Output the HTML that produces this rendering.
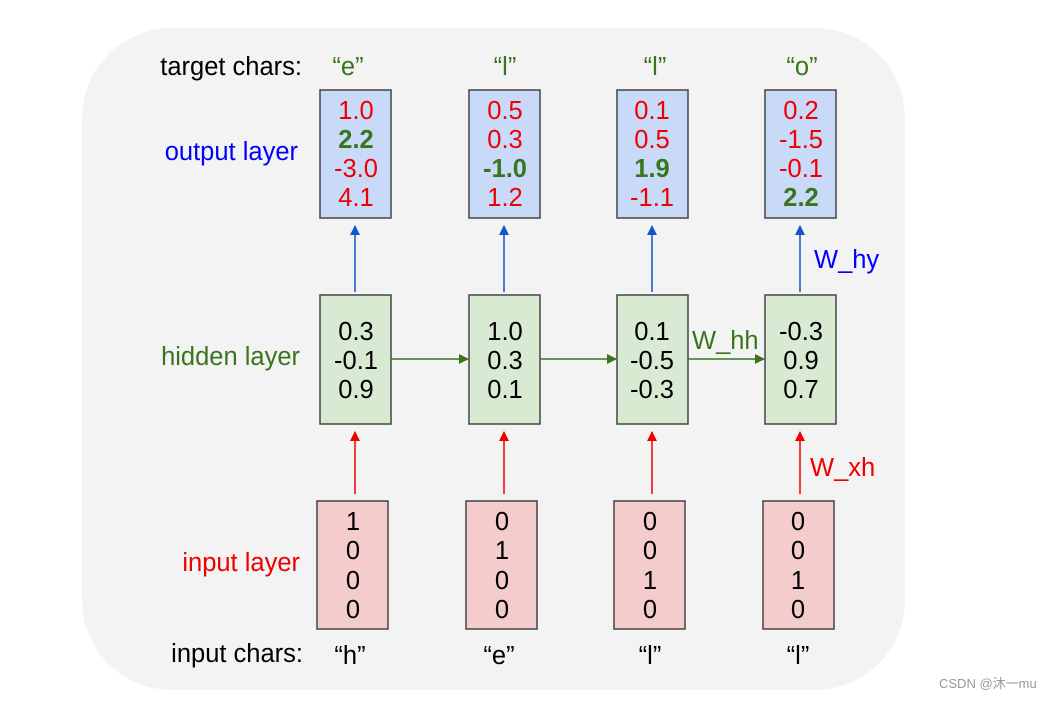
<!DOCTYPE html>
<html><head><meta charset="utf-8"><style>
body{margin:0;background:#fff;}
</style></head><body>
<svg width="1051" height="698" xmlns="http://www.w3.org/2000/svg" font-family="Liberation Sans, Arial, sans-serif" font-size="25.5">
<rect x="82" y="28" width="823" height="662" rx="90" ry="90" fill="#f3f3f3"/>
<defs>
<marker id="mb" markerWidth="10" markerHeight="10" refX="9" refY="5" orient="auto" markerUnits="userSpaceOnUse"><path d="M0,0 L10,5 L0,10 z" fill="#1155cc"/></marker>
<marker id="mr" markerWidth="10" markerHeight="10" refX="9" refY="5" orient="auto" markerUnits="userSpaceOnUse"><path d="M0,0 L10,5 L0,10 z" fill="#e00"/></marker>
<marker id="mg" markerWidth="10" markerHeight="10" refX="9" refY="5" orient="auto" markerUnits="userSpaceOnUse"><path d="M0,0 L10,5 L0,10 z" fill="#38761d"/></marker>
</defs>
<g text-anchor="end">
<text x="302" y="75" fill="#000">target chars:</text>
<text x="298" y="160" fill="#00f">output layer</text>
<text x="300" y="365" fill="#38761d">hidden layer</text>
<text x="300" y="571" fill="#e00">input layer</text>
<text x="303" y="662" fill="#000">input chars:</text>
</g>
<g stroke="#444" stroke-width="1.5">
<rect x="320" y="90" width="71" height="128" fill="#c9daf8"/>
<rect x="469" y="90" width="71" height="128" fill="#c9daf8"/>
<rect x="617" y="90" width="71" height="128" fill="#c9daf8"/>
<rect x="765" y="90" width="71" height="128" fill="#c9daf8"/>
<rect x="320" y="295" width="71" height="129" fill="#d9ead3"/>
<rect x="469" y="295" width="71" height="129" fill="#d9ead3"/>
<rect x="617" y="295" width="71" height="129" fill="#d9ead3"/>
<rect x="765" y="295" width="71" height="129" fill="#d9ead3"/>
<rect x="317" y="501" width="71" height="128" fill="#f4cccc"/>
<rect x="466" y="501" width="71" height="128" fill="#f4cccc"/>
<rect x="614" y="501" width="71" height="128" fill="#f4cccc"/>
<rect x="763" y="501" width="71" height="128" fill="#f4cccc"/>
</g>
<g stroke-width="1.5">
<line x1="355" y1="292" x2="355" y2="226" stroke="#1155cc" marker-end="url(#mb)"/>
<line x1="504" y1="292" x2="504" y2="226" stroke="#1155cc" marker-end="url(#mb)"/>
<line x1="652" y1="292" x2="652" y2="226" stroke="#1155cc" marker-end="url(#mb)"/>
<line x1="800" y1="292" x2="800" y2="226" stroke="#1155cc" marker-end="url(#mb)"/>
<line x1="355" y1="494" x2="355" y2="432" stroke="#e00" marker-end="url(#mr)"/>
<line x1="504" y1="494" x2="504" y2="432" stroke="#e00" marker-end="url(#mr)"/>
<line x1="652" y1="494" x2="652" y2="432" stroke="#e00" marker-end="url(#mr)"/>
<line x1="800" y1="494" x2="800" y2="432" stroke="#e00" marker-end="url(#mr)"/>
<line x1="391" y1="359" x2="468" y2="359" stroke="#38761d" marker-end="url(#mg)"/>
<line x1="540" y1="359" x2="616" y2="359" stroke="#38761d" marker-end="url(#mg)"/>
<line x1="688" y1="359" x2="764" y2="359" stroke="#38761d" marker-end="url(#mg)"/>
</g>
<g text-anchor="middle">
<g fill="#38761d">
<text x="348" y="75">“e”</text><text x="505" y="75">“l”</text><text x="655" y="75">“l”</text><text x="802" y="75">“o”</text>
</g>
<g fill="#000">
<text x="350" y="664">“h”</text><text x="499" y="664">“e”</text><text x="650" y="664">“l”</text><text x="798" y="664">“l”</text>
</g>
<g fill="#e00">
<text x="356" y="119">1.0</text><text x="356" y="177">-3.0</text><text x="356" y="206">4.1</text>
<text x="505" y="119">0.5</text><text x="505" y="148">0.3</text><text x="505" y="206">1.2</text>
<text x="652" y="119">0.1</text><text x="652" y="148">0.5</text><text x="652" y="206">-1.1</text>
<text x="801" y="119">0.2</text><text x="801" y="148">-1.5</text><text x="801" y="177">-0.1</text>
</g>
<g fill="#38761d" font-weight="bold">
<text x="356" y="148">2.2</text><text x="505" y="177">-1.0</text><text x="652" y="177">1.9</text><text x="801" y="206">2.2</text>
</g>
<g fill="#000">
<text x="356" y="340">0.3</text><text x="356" y="369">-0.1</text><text x="356" y="398">0.9</text>
<text x="505" y="340">1.0</text><text x="505" y="369">0.3</text><text x="505" y="398">0.1</text>
<text x="652" y="340">0.1</text><text x="652" y="369">-0.5</text><text x="652" y="398">-0.3</text>
<text x="801" y="340">-0.3</text><text x="801" y="369">0.9</text><text x="801" y="398">0.7</text>
<text x="353" y="530">1</text><text x="353" y="559">0</text><text x="353" y="589">0</text><text x="353" y="618">0</text>
<text x="502" y="530">0</text><text x="502" y="559">1</text><text x="502" y="589">0</text><text x="502" y="618">0</text>
<text x="650" y="530">0</text><text x="650" y="559">0</text><text x="650" y="589">1</text><text x="650" y="618">0</text>
<text x="798" y="530">0</text><text x="798" y="559">0</text><text x="798" y="589">1</text><text x="798" y="618">0</text>
</g>
</g>
<text x="814" y="268" fill="#00f">W_hy</text>
<text x="692" y="349" fill="#38761d">W_hh</text>
<text x="810" y="476" fill="#e00">W_xh</text>
<text x="939" y="688" fill="#999" font-size="13" font-family="Liberation Sans, Noto Sans CJK SC, sans-serif">CSDN @沐一mu</text>
</svg>
</body></html>
